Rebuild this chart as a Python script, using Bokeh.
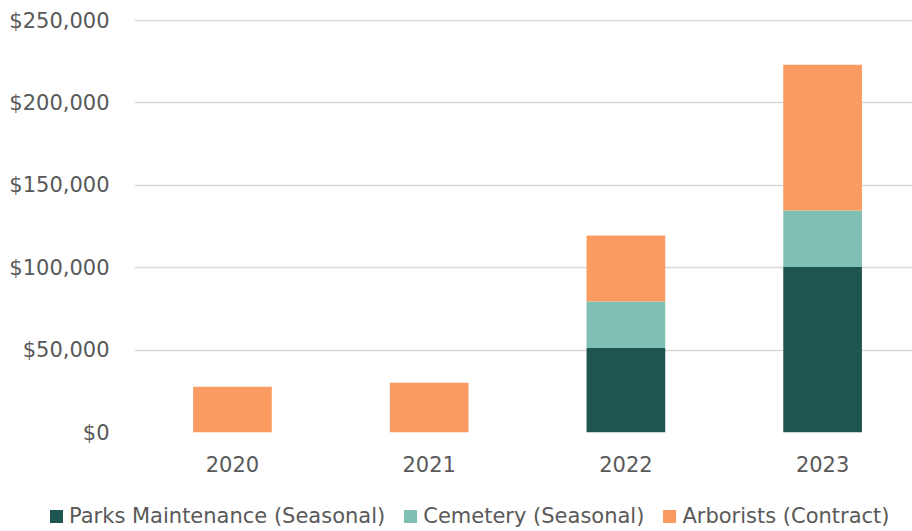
from bokeh.plotting import figure
from bokeh.layouts import column
from bokeh.models import ColumnDataSource, NumeralTickFormatter, FixedTicker, Range1d, Div
from bokeh.embed import file_html
from bokeh.resources import INLINE

years = ["2020", "2021", "2022", "2023"]
series_names = ["Parks Maintenance (Seasonal)", "Cemetery (Seasonal)", "Arborists (Contract)"]
parks = [0, 0, 51200, 100500]
cemetery = [0, 0, 28300, 34200]
arborists = [27700, 30200, 40000, 88500]
y_ticks = [0, 50000, 100000, 150000, 200000, 250000]
colors = ["#1E5550", "#7FBFB4", "#FA9B61"]

FONT = "DejaVu Sans"
TXT = "#595959"

x = list(range(len(years)))
source = ColumnDataSource(dict(x=x, parks=parks, cemetery=cemetery, arborists=arborists))

p = figure(frame_width=778, frame_height=413, output_backend="svg", toolbar_location=None,
           x_range=Range1d(-0.498, 3.457), y_range=Range1d(0, 250000 * 413 / 412),
           min_border_left=134, min_border_right=0, min_border_top=19, min_border_bottom=46)

renderers = p.vbar_stack(["parks", "cemetery", "arborists"], x="x", width=0.4,
                         color=colors, line_color=None, source=source)

p.outline_line_color = None
p.background_fill_color = "white"
p.border_fill_color = "white"

p.xgrid.grid_line_color = None
p.ygrid.grid_line_color = "#D9D9D9"
p.ygrid.grid_line_width = 1.5

p.yaxis.ticker = FixedTicker(ticks=y_ticks)
p.yaxis.formatter = NumeralTickFormatter(format="$0,0")
p.xaxis.ticker = FixedTicker(ticks=x)
p.xaxis.major_label_overrides = {i: y for i, y in enumerate(years)}

for ax in (p.xaxis[0], p.yaxis[0]):
    ax.axis_line_color = None
    ax.major_tick_line_color = None
    ax.minor_tick_line_color = None
    ax.major_label_text_font = FONT
    ax.major_label_text_font_size = "21px"
    ax.major_label_text_color = TXT
p.yaxis.major_label_standoff = 19
p.xaxis.major_label_standoff = 17

# Legend strip below the chart (real text, built from the series names and colours)
items_html = "".join(
    f'<span style="display:inline-block;width:13px;height:13px;background:{c};margin-right:6px;flex:none;"></span>'
    f'<span style="margin-right:19px;flex:none;">{n}</span>'
    for n, c in zip(series_names, colors)
)
legend_html = (
    f'<div style="display:flex;align-items:center;height:25px;margin:26px 0 0 50px;'
    f'font-family:\'{FONT}\';font-size:21px;color:{TXT};white-space:nowrap;line-height:25px;">'
    f'{items_html}</div>'
)
legend_div = Div(text=legend_html, width=912, height=53, margin=0)

layout = column(p, legend_div, spacing=0)
open("out.html", "w").write(file_html(layout, INLINE))
